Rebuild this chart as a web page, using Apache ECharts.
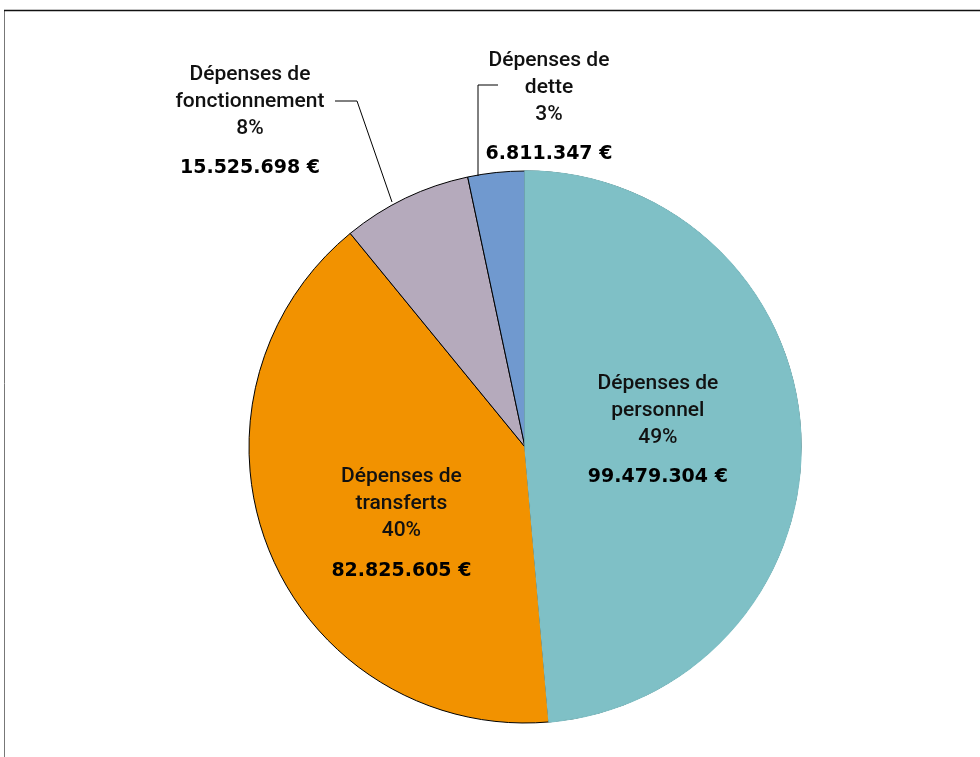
<!DOCTYPE html>
<html>
<head>
<meta charset="utf-8">
<title>Dépenses</title>
<script src="https://cdn.jsdelivr.net/npm/echarts@6/dist/echarts.min.js"></script>
<style>
	html, body { margin: 0; padding: 0; background: #ffffff; }
	#chart { width: 980px; height: 757px; }
</style>
</head>
<body>
<div id="chart"></div>
<script>
	// chart values
	const categories = ['Dépenses de\npersonnel', 'Dépenses de\ntransferts', 'Dépenses de\nfonctionnement', 'Dépenses de\ndette'];
	const amounts = [99479304, 82825605, 15525698, 6811347];
	const sliceColors = ['#7fc0c6', '#f29200', '#b5aabc', '#7099cf'];

	// 99479304 -> "99.479.304 €"
	function formatEuro(v) {
		return String(v).replace(/\B(?=(\d{3})+(?!\d))/g, '.') + ' €';
	}

	const outside = [false, false, true, true];

	let chart = echarts.init(document.getElementById('chart'));

	// bottom layer: all slices with black edges
	let mainData = categories.map(function (name, i) {
		return {
			name: name,
			value: amounts[i],
			itemStyle: { color: sliceColors[i], borderColor: '#000', borderWidth: 1 }
		};
	});

	// top layer: redraws the teal slice so its edges stay borderless, and carries the labels
	let overlayData = categories.map(function (name, i) {
		let item = {
			name: name,
			value: amounts[i],
			itemStyle: i === 0
				? { color: sliceColors[0], borderColor: sliceColors[0], borderWidth: 1.5 }
				: { color: 'rgba(0,0,0,0)', borderWidth: 0 }
		};
		if (outside[i]) {
			item.label = { position: 'outside' };
			item.labelLine = { show: true };
		}
		return item;
	});

	let option = {
		animation: false,
		backgroundColor: '#ffffff',
		graphic: [
			{
				type: 'line',
				shape: { x1: 4.5, y1: 10, x2: 4.5, y2: 757 },
				style: { stroke: '#777', lineWidth: 1 }
			},
			{
				type: 'line',
				shape: { x1: 4, y1: 10.5, x2: 980, y2: 10.5 },
				style: { stroke: '#111', lineWidth: 1.5 }
			}
		],
		series: [
			{
				type: 'pie',
				z: 2,
				silent: true,
				center: [525, 447],
				radius: 276,
				startAngle: 90,
				clockwise: true,
				data: mainData,
				label: { show: false },
				labelLine: { show: false },
				emphasis: { disabled: true }
			},
			{
				type: 'pie',
				z: 3,
				center: [525, 447],
				radius: 276,
				startAngle: 90,
				clockwise: true,
				avoidLabelOverlap: false,
				percentPrecision: 0,
				data: overlayData,
				label: {
					show: true,
					position: 'inside',
					formatter: function (p) {
						return '{n|' + p.name + '}\n{n|' + p.percent + '%}\n{v|' + formatEuro(p.value) + '}';
					},
					rich: {
						n: {
							fontFamily: 'Roboto', fontSize: 21, fontWeight: 500,
							color: '#111', lineHeight: 27, align: 'center'
						},
						v: {
							fontFamily: 'DejaVu Sans', fontSize: 19, fontWeight: 'bold',
							color: '#000', lineHeight: 52, align: 'center'
						}
					}
				},
				labelLine: {
					show: false,
					lineStyle: { color: '#000', width: 1 }
				},
				labelLayout: function (p) {
					if (p.dataIndex === 0) return { dx: -8, dy: -4 };
					if (p.dataIndex === 1) return { dx: 7, dy: 30 };
					if (p.dataIndex === 2) {
						return {
							x: 250, y: 61, align: 'center', verticalAlign: 'top',
							labelLinePoints: [[392, 202], [357, 101], [335, 101]]
						};
					}
					return {
						x: 549, y: 47, align: 'center', verticalAlign: 'top',
						labelLinePoints: [[478, 176], [478, 85], [498, 85]]
					};
				},
				emphasis: { disabled: true }
			}
		]
	};

	chart.setOption(option);
	window.addEventListener('resize', function () {
		chart.resize();
	});
</script>
</body>
</html>
